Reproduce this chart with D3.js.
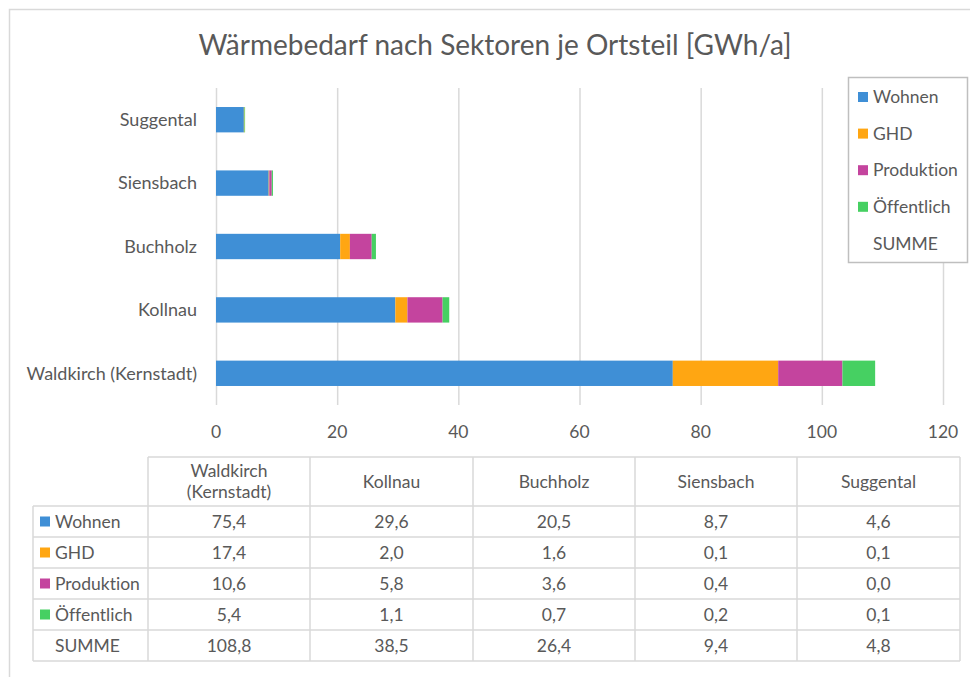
<!DOCTYPE html>
<html>
<head>
<meta charset="utf-8">
<script src="https://d3js.org/d3.v7.min.js"></script>
<style>
  body { margin: 0; background: #fff; }
  svg { font-family: Lato, "Open Sans", sans-serif; font-variant-ligatures: none; }
</style>
</head>
<body>
<svg width="970" height="677"></svg>
<script>
// data
var places = ["Waldkirch (Kernstadt)", "Kollnau", "Buchholz", "Siensbach", "Suggental"];
var tableHeads = ["Waldkirch\n(Kernstadt)", "Kollnau", "Buchholz", "Siensbach", "Suggental"];
var sectors = ["Wohnen", "GHD", "Produktion", "Öffentlich"];
var wohnen = [75.4, 29.6, 20.5, 8.7, 4.6];
var ghd = [17.4, 2.0, 1.6, 0.1, 0.1];
var produktion = [10.6, 5.8, 3.6, 0.4, 0.0];
var oeffentlich = [5.4, 1.1, 0.7, 0.2, 0.1];
var summe = [108.8, 38.5, 26.4, 9.4, 4.8];
var xTicks = [0, 20, 40, 60, 80, 100, 120];
var colors = ["#3f8fd6", "#ffa612", "#c4449e", "#46d062"];

var series = [wohnen, ghd, produktion, oeffentlich];
var rows = places.map(function(p, i) {
  var r = { place: p };
  sectors.forEach(function(s, k) { r[s] = series[k][i]; });
  return r;
});

var svg = d3.select("svg");
var txt = "#595959", grid = "#d9d9d9";

// outer frame
svg.append("path")
  .attr("d", "M9.5,677V9.5H970")
  .attr("fill", "none").attr("stroke", grid).attr("stroke-width", 1.5);

svg.append("text")
  .attr("x", 495).attr("y", 55)
  .attr("text-anchor", "middle")
  .attr("font-size", 28).attr("fill", txt)
  .text("Wärmebedarf nach Sektoren je Ortsteil [GWh/a]");

var x = d3.scaleLinear().domain([0, 120]).range([216, 943]);
var y = d3.scaleBand().domain(places.slice().reverse()).range([88, 405]).paddingInner(0.6).paddingOuter(0.3);

// grid
svg.append("g").selectAll("line").data(xTicks).join("line")
  .attr("x1", function(d) { return x(d) + 0.5; })
  .attr("x2", function(d) { return x(d) + 0.5; })
  .attr("y1", 88).attr("y2", 405)
  .attr("stroke", grid).attr("stroke-width", 1.5);

// stacked bars
var stack = d3.stack().keys(sectors)(rows);
svg.append("g").selectAll("g").data(stack).join("g")
  .attr("fill", function(d, i) { return colors[i]; })
  .selectAll("rect").data(function(d) { return d; }).join("rect")
    .attr("x", function(d) { return x(d[0]); })
    .attr("width", function(d) { return Math.max(0, x(d[1]) - x(d[0])); })
    .attr("y", function(d) { return y(d.data.place); })
    .attr("height", y.bandwidth());

// x tick labels
svg.append("g").selectAll("text").data(xTicks).join("text")
  .attr("x", function(d) { return x(d); })
  .attr("y", 438)
  .attr("text-anchor", "middle")
  .attr("font-size", 17.5).attr("fill", txt)
  .text(function(d) { return d; });

// category labels
svg.append("g").selectAll("text").data(places).join("text")
  .attr("x", 197)
  .attr("y", function(d) { return y(d) + y.bandwidth() / 2; })
  .attr("dy", "0.35em")
  .attr("text-anchor", "end")
  .attr("font-size", 18).attr("fill", txt)
  .text(function(d) { return d; });

// legend
var lg = svg.append("g");
lg.append("rect").attr("x", 848.5).attr("y", 77.5).attr("width", 119).attr("height", 185)
  .attr("fill", "#fff").attr("stroke", "#bfbfbf").attr("stroke-width", 1.5);
var legItems = sectors.concat(["SUMME"]);
legItems.forEach(function(s, i) {
  var yy = 97 + i * 36.6;
  if (i < sectors.length) {
    lg.append("rect").attr("x", 858).attr("y", yy - 5).attr("width", 10).attr("height", 10).attr("fill", colors[i]);
  }
  lg.append("text").attr("x", 873).attr("y", yy).attr("dy", "0.35em")
    .attr("font-size", 17.5).attr("fill", txt).text(s);
});

// data table
var colX = [148, 310, 473, 635, 797, 960];
var rowY = [457, 506, 537, 568, 599, 630, 661];
var tb = svg.append("g");
var labels = sectors.concat(["SUMME"]);
var vals = series.concat([summe]);
var fmt = function(v) { return v.toFixed(1).replace(".", ","); };

// lines
colX.forEach(function(cx) {
  tb.append("line").attr("x1", cx).attr("x2", cx).attr("y1", rowY[0]).attr("y2", rowY[6])
    .attr("stroke", grid).attr("stroke-width", 1.5);
});
tb.append("line").attr("x1", 33).attr("x2", 33).attr("y1", rowY[1]).attr("y2", rowY[6])
  .attr("stroke", grid).attr("stroke-width", 1.5);
rowY.forEach(function(ry, i) {
  tb.append("line").attr("x1", i === 0 ? colX[0] : 33).attr("x2", 960).attr("y1", ry).attr("y2", ry)
    .attr("stroke", grid).attr("stroke-width", 1.5);
});

// header
tableHeads.forEach(function(h, j) {
  var cx = (colX[j] + colX[j + 1]) / 2;
  var parts = h.split("\n");
  var t = tb.append("text").attr("text-anchor", "middle").attr("font-size", 17.5).attr("fill", txt);
  parts.forEach(function(p, k) {
    t.append("tspan").attr("x", cx)
      .attr("y", (rowY[0] + rowY[1]) / 2 + (k - (parts.length - 1) / 2) * 21)
      .attr("dy", "0.35em").text(p);
  });
});

// rows
labels.forEach(function(l, i) {
  var cy = (rowY[i + 1] + rowY[i + 2]) / 2;
  if (i < sectors.length) {
    tb.append("rect").attr("x", 40).attr("y", cy - 5).attr("width", 10).attr("height", 10).attr("fill", colors[i]);
  }
  tb.append("text").attr("x", 55).attr("y", cy).attr("dy", "0.35em")
    .attr("font-size", 17.5).attr("fill", txt).text(l);
  vals[i].forEach(function(v, j) {
    tb.append("text").attr("x", (colX[j] + colX[j + 1]) / 2).attr("y", cy).attr("dy", "0.35em")
      .attr("text-anchor", "middle").attr("font-size", 17.5).attr("fill", txt).text(fmt(v));
  });
});
</script>
</body>
</html>
